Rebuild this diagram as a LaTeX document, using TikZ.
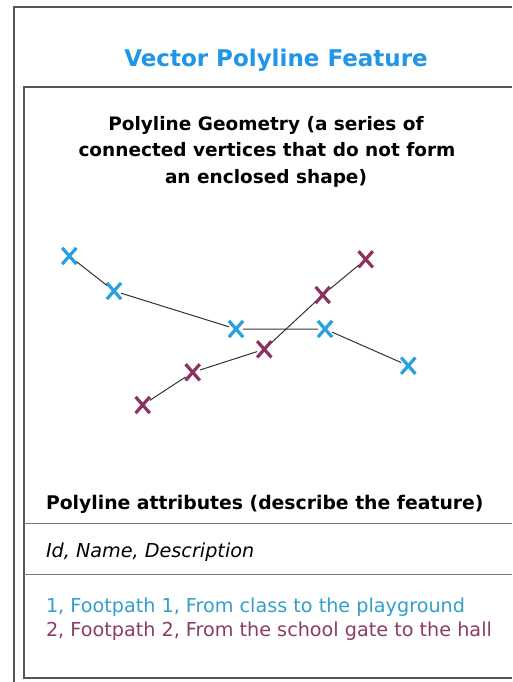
\documentclass[tikz,border=0pt]{standalone}
\usepackage{fontspec}
\setmainfont{DejaVu Sans}
\usetikzlibrary{shapes.misc}
\definecolor{titleblue}{RGB}{33,150,230}
\definecolor{markblue}{RGB}{40,160,222}
\definecolor{markpurple}{RGB}{140,50,95}
\definecolor{txtblue}{RGB}{50,160,200}
\definecolor{txtpurple}{RGB}{140,60,100}
\definecolor{framegray}{RGB}{85,85,85}
\definecolor{sepgray}{RGB}{120,120,120}
\tikzset{
  lbl/.style={inner sep=0pt, outer sep=0pt},
  vmark/.style={cross out, draw, minimum width=11pt, minimum height=13pt, inner sep=0pt, line width=3.2pt},
  bmark/.style={vmark, draw=markblue},
  pmark/.style={vmark, draw=markpurple},
  seg/.style={draw=black!80, line width=1pt},
  frame/.style={draw=framegray, line width=1.4pt},
  sepline/.style={draw=sepgray, line width=1pt},
}
\begin{document}
\begin{tikzpicture}[x=1pt,y=-1pt]
\useasboundingbox (0,0) rectangle (512,682);
\fill[white] (0,0) rectangle (512,682);
% frames
\draw[frame] (512,7) -- (14,7) -- (14,682);
\draw[frame] (512,87) -- (24,87) -- (24,678) -- (512,678);
\draw[sepline] (24,523.5) -- (512,523.5);
\draw[sepline] (24,574.5) -- (512,574.5);
% title
\node[lbl, anchor=base, text=titleblue, font=\fontsize{23}{28}\selectfont\bfseries] (title) at (276,66.7) {Vector Polyline Feature};
\node[lbl, anchor=base, font=\fontsize{18.5}{24}\selectfont\bfseries] (h1) at (266,130) {Polyline Geometry (a series of};
\node[lbl, anchor=base, font=\fontsize{18.5}{24}\selectfont\bfseries] (h2) at (267,156.5) {connected vertices that do not form};
\node[lbl, anchor=base, font=\fontsize{18.5}{24}\selectfont\bfseries] (h3) at (266,183) {an enclosed shape)};
% vertices
\node[bmark] (b1) at (69.3,256) {};
\node[bmark] (b2) at (114,291) {};
\node[bmark] (b3) at (236,329) {};
\node[bmark] (b4) at (325,329) {};
\node[bmark] (b5) at (408.3,365.7) {};
\node[pmark] (p1) at (142.7,405) {};
\node[pmark] (p2) at (192.7,372.3) {};
\node[pmark] (p3) at (264.3,349.3) {};
\node[pmark] (p4) at (322.7,295) {};
\node[pmark] (p5) at (365.7,259.3) {};
\draw[seg] (b1) -- (b2) -- (b3) -- (b4) -- (b5);
\draw[seg] (p1) -- (p2) -- (p3) -- (p4) -- (p5);
% attributes
\node[lbl, anchor=base west, font=\fontsize{18.8}{24}\selectfont\bfseries] (attr) at (46,509) {Polyline attributes (describe the feature)};
\node[lbl, anchor=base west, font=\fontsize{19.2}{24}\selectfont\itshape] (fields) at (46,557) {Id, Name, Description};
\node[lbl, anchor=base west, text=txtblue, font=\fontsize{19.2}{24}\selectfont] (r1) at (46,612.5) {1, Footpath 1, From class to the playground};
\node[lbl, anchor=base west, text=txtpurple, font=\fontsize{19.2}{24}\selectfont] (r2) at (46,636.5) {2, Footpath 2, From the school gate to the hall};
\end{tikzpicture}
\end{document}
